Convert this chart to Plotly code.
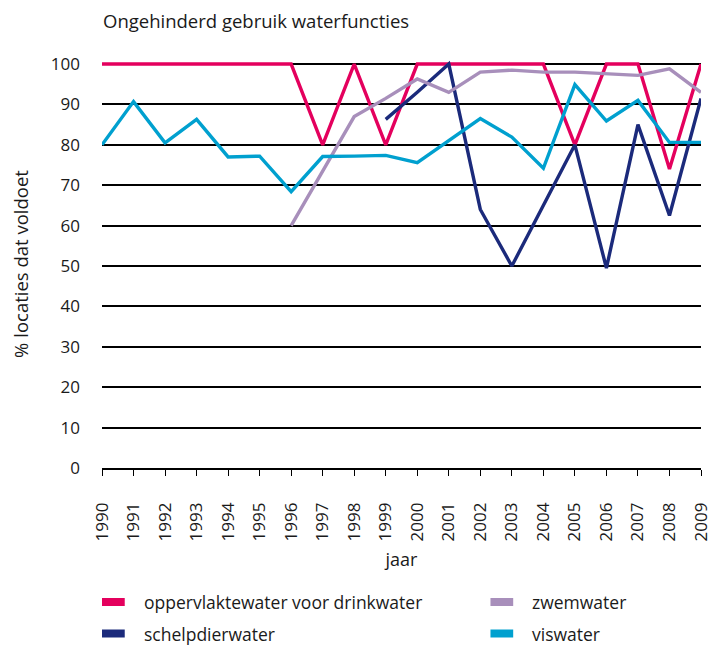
import plotly.graph_objects as go

years = list(range(1990, 2010))
drinkwater = [100, 100, 100, 100, 100, 100, 100, 80, 100, 80, 100, 100, 100, 100, 100, 80, 100, 100, 74, 100]
schelpdier = [None]*9 + [86.3, 93, 100, 64, 50, 65, 80, 49.5, 85, 62.5, 91.5]
zwemwater = [None]*6 + [60, 73.6, 87, 91.5, 96.3, 93, 98, 98.5, 98, 98, 97.7, 97.2, 98.8, 93]
viswater = [80, 90.7, 80.5, 86.3, 77, 77.2, 68.4, 77.1, 77.2, 77.4, 75.6, 81, 86.5, 81.9, 74.2, 94.9, 85.9, 91, 80.6, 80.6]

names = ["oppervlaktewater voor drinkwater", "schelpdierwater", "zwemwater", "viswater"]
colors = ["#e4005d", "#1b2a7b", "#a88fbb", "#00a0cf"]
series = [drinkwater, schelpdier, zwemwater, viswater]

y_ticks = list(range(0, 101, 10))
FONT = "Open Sans"

# the page body has an 8px margin, so the figure is drawn 8px in from the window
OFF = 8
W, H = 724 - OFF, 646 - OFF
L, R = 102 - OFF, 724 - 708
T = 64 - OFF - 4
B = H - (468 - OFF)

fig = go.Figure()
for name, col, vals in zip(names, colors, series):
    fig.add_trace(go.Scatter(x=years, y=vals, mode="lines", name=name,
                             line=dict(color=col, width=3.4), connectgaps=False,
                             showlegend=False))

fig.update_layout(
    width=W, height=H,
    margin=dict(l=L, r=R, t=T, b=B),
    plot_bgcolor="white", paper_bgcolor="white",
    font=dict(family=FONT, size=17, color="#1a1a1a"),
    xaxis=dict(range=[1990, 2009], tickmode="array", tickvals=years,
               ticktext=[str(y) for y in years], tickangle=-90,
               showgrid=False, showline=True, linecolor="black", linewidth=1.5,
               ticks="outside", ticklen=6, tickwidth=1.2, tickcolor="black",
               tickfont=dict(size=17), zeroline=False, ticklabelstandoff=20,
               title=dict(text="jaar", font=dict(size=18), standoff=13)),
    yaxis=dict(range=[0, 101], tickmode="array", tickvals=y_ticks,
               showgrid=True, gridcolor="black", gridwidth=1.5,
               showline=False, zeroline=False, ticks="", tickfont=dict(size=17),
               ticklabelstandoff=21,
               title=dict(text="% locaties dat voldoet", font=dict(size=18.5), standoff=18)),
    title=dict(text="Ongehinderd gebruik waterfuncties", x=(103 - OFF)/W, xanchor="left",
               y=1-(22 - OFF)/H, yanchor="middle", font=dict(size=18.5, family=FONT)),
)

# manual legend (two columns), positions in reference pixels
legend_pos = [(0, 0), (1, 0), (0, 1), (1, 1)]  # (row, col) per series
col_x = [102, 495]
row_y = [602, 633.5]
pw, ph = W - L - R, H - T - B
for (r, c), name, col in zip(legend_pos, names, colors):
    x0 = col_x[c] - OFF
    yc = row_y[r] - OFF
    fig.add_shape(type="rect", xref="paper", yref="paper",
                  x0=(x0 - L)/pw, x1=(x0 + 23 - L)/pw,
                  y0=(H - B - yc - 4)/ph, y1=(H - B - yc + 4)/ph,
                  fillcolor=col, line=dict(width=0))
    fig.add_annotation(xref="paper", yref="paper",
                       x=(x0 + 40 - L)/pw, y=(H - B - yc)/ph,
                       text=name, showarrow=False, xanchor="left", yanchor="middle",
                       font=dict(size=17.5, family=FONT))

fig.write_html("out.html")
